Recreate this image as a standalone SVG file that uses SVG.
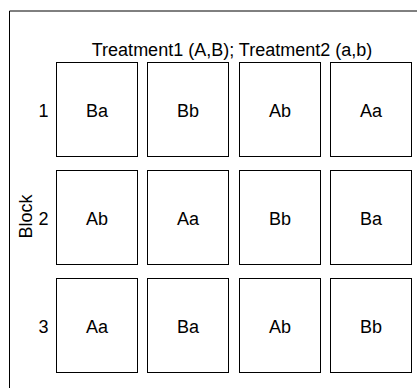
<svg xmlns="http://www.w3.org/2000/svg" width="417" height="388" viewBox="0 0 417 388">
<style>
.cell rect{fill:#fff;stroke:#000;stroke-width:1}
text{font-family:"Liberation Sans",Arial,sans-serif;fill:#000;text-anchor:middle;font-size:18px}
</style>
<rect width="417" height="388" fill="#fff"/>
<path d="M9.5 388 V11 H417" fill="none" stroke="#000" stroke-width="1"/>
<text x="232" y="55.5">Treatment1 (A,B); Treatment2 (a,b)</text>
<text transform="translate(31.5,216.5) rotate(-90)">Block</text>
<g id="rowlabels">
<text x="43.5" y="116.5">1</text>
<text x="43.5" y="224.5">2</text>
<text x="43.5" y="332.5">3</text>
</g>
<g id="r1c1" class="cell"><rect x="56.5" y="62.5" width="81" height="94"/><text x="97" y="116.5">Ba</text></g>
<g id="r1c2" class="cell"><rect x="147.5" y="62.5" width="81" height="94"/><text x="188" y="116.5">Bb</text></g>
<g id="r1c3" class="cell"><rect x="239.5" y="62.5" width="81" height="94"/><text x="280" y="116.5">Ab</text></g>
<g id="r1c4" class="cell"><rect x="330.5" y="62.5" width="81" height="94"/><text x="371" y="116.5">Aa</text></g>
<g id="r2c1" class="cell"><rect x="56.5" y="170.5" width="81" height="94"/><text x="97" y="224.5">Ab</text></g>
<g id="r2c2" class="cell"><rect x="147.5" y="170.5" width="81" height="94"/><text x="188" y="224.5">Aa</text></g>
<g id="r2c3" class="cell"><rect x="239.5" y="170.5" width="81" height="94"/><text x="280" y="224.5">Bb</text></g>
<g id="r2c4" class="cell"><rect x="330.5" y="170.5" width="81" height="94"/><text x="371" y="224.5">Ba</text></g>
<g id="r3c1" class="cell"><rect x="56.5" y="278.5" width="81" height="94"/><text x="97" y="332.5">Aa</text></g>
<g id="r3c2" class="cell"><rect x="147.5" y="278.5" width="81" height="94"/><text x="188" y="332.5">Ba</text></g>
<g id="r3c3" class="cell"><rect x="239.5" y="278.5" width="81" height="94"/><text x="280" y="332.5">Ab</text></g>
<g id="r3c4" class="cell"><rect x="330.5" y="278.5" width="81" height="94"/><text x="371" y="332.5">Bb</text></g>
</svg>
